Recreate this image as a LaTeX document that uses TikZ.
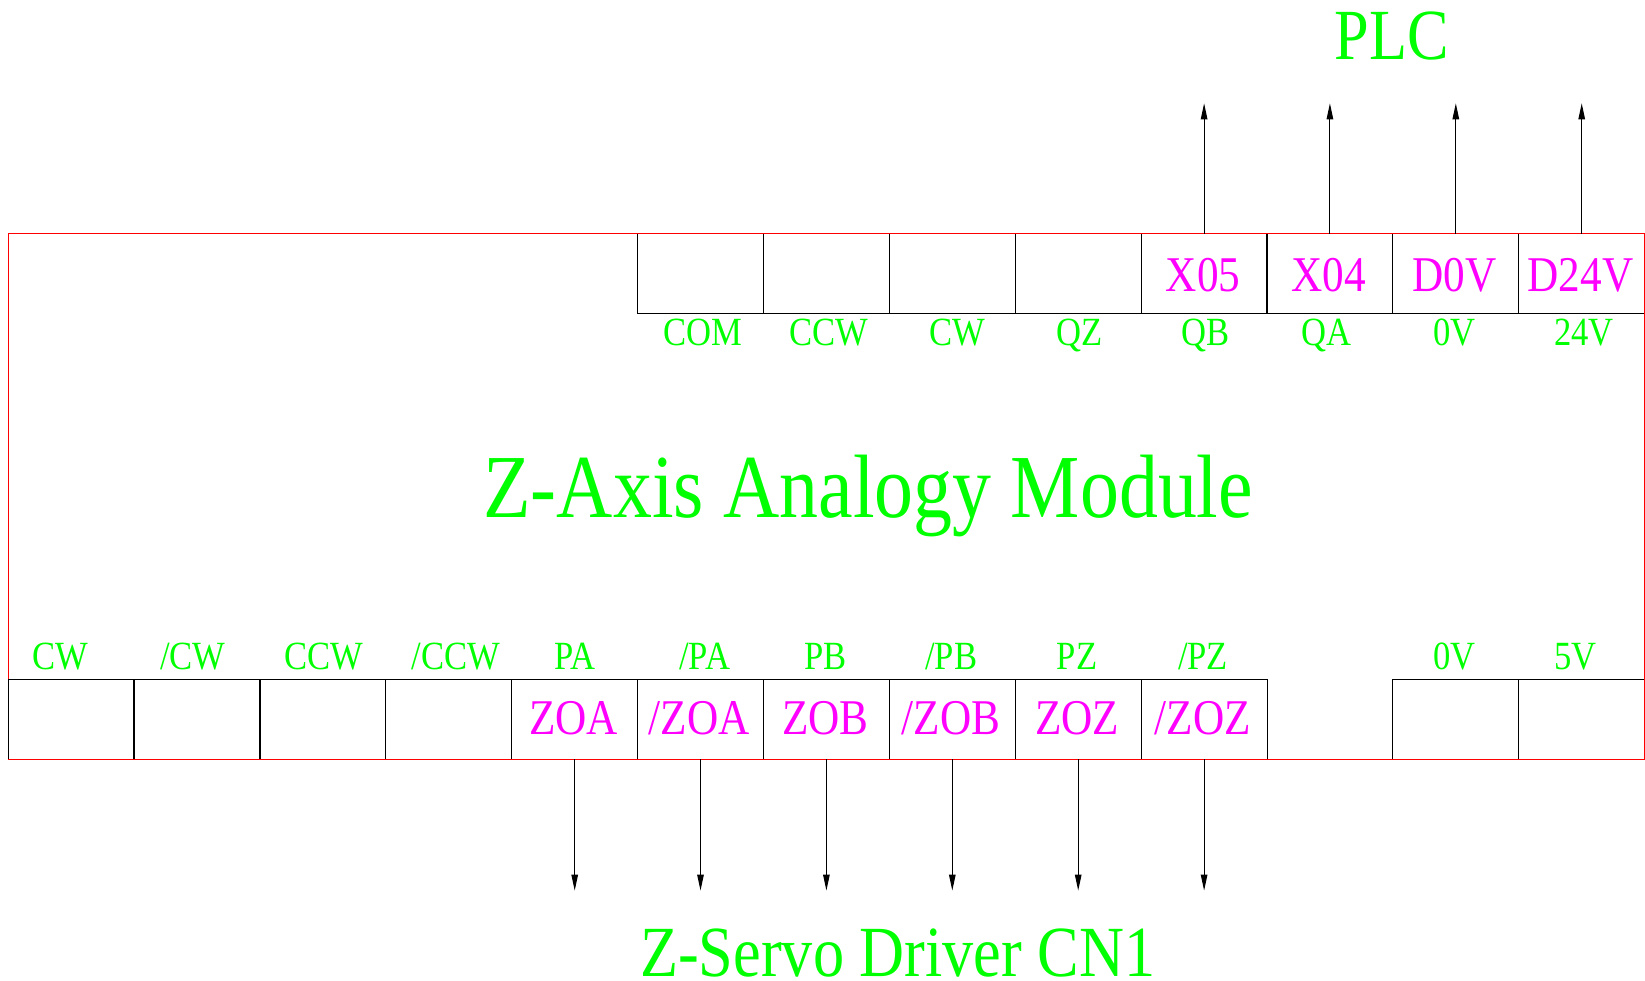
\documentclass[tikz,border=0pt]{standalone}
\usepackage{fontspec}
\setmainfont[FakeStretch=0.865]{Liberation Serif}
\usetikzlibrary{arrows.meta}
\definecolor{lblgreen}{RGB}{0,255,0}
\definecolor{pinmag}{RGB}{255,0,255}
\definecolor{edgered}{RGB}{255,0,0}
\tikzset{
  x=1pt,y=-1pt,
  cell/.style={draw=black,line width=1.1pt,minimum width=125.9pt,minimum height=#1,inner sep=0pt,outer sep=0pt},
  lbl/.style={anchor=base,text=lblgreen,font=\fontsize{40}{40}\selectfont,inner sep=0pt},
  pin/.style={anchor=base,text=pinmag,font=\fontsize{50}{50}\selectfont,inner sep=0pt},
  heading/.style={anchor=base,text=lblgreen,font=\fontsize{#1}{#1}\selectfont,inner sep=0pt},
  wire/.style={draw=black,line width=1.1pt,-{Stealth[length=16pt,width=6.5pt,inset=0pt]}},
  outline/.style={draw=edgered,line width=1.1pt}
}
\begin{document}
\begin{tikzpicture}
\useasboundingbox (0,0) rectangle (1645,981);
\begin{scope}[shift={(0.8,0.6)}]
% upper row of cells
\foreach \i/\cx in {1/699.7,2/825.6,3/951.5,4/1077.4,5/1203.3,6/1329.1,7/1455,8/1580.9}{
  \node[cell=79.6pt] (u\i) at (\cx,272.8) {};
}
% lower row of cells
\foreach \i/\cx in {1/70.2,2/196.2,3/322.1,4/448,5/573.9,6/699.7,7/825.6,8/951.5,9/1077.4,10/1203.3,13/1455,14/1580.9}{
  \node[cell=80pt] (d\i) at (\cx,718.7) {};
}
% module outline
\coordinate (tl) at (7.3,233);
\coordinate (tr) at (1643.6,233);
\coordinate (br) at (1643.6,758.7);
\coordinate (bl) at (7.3,758.7);
\coordinate (ltop) at (7.3,678.7);
\draw[outline] (ltop) -- (tl) -- (tr) -- (br) -- (bl);
% upper labels
\foreach \n/\t/\cx in {a/COM/701.8,b/CCW/827.7,c/CW/956.7,e/QZ/1078.4,f/QB/1204.3,g/QA/1325.9,h/0V/1453.9,k/24V/1583}{
  \node[lbl] (lu\n) at (\cx,345) {\t};
}
% lower labels
\foreach \n/\t/\cx in {a/CW/59.8,b/{/CW}/192,c/CCW/323.1,e/{/CCW}/455.3,f/PA/573.8,g/{/PA}/703.9,h/PB/824.5,k/{/PB}/950.4,l/PZ/1076.3,m/{/PZ}/1202.2,n/0V/1453.9,o/5V/1574.5}{
  \node[lbl] (ll\n) at (\cx,669.3) {\t};
}
% pins
\foreach \n/\t/\cx in {a/X05/1202.2,b/X04/1328.0,c/D0V/1453.9,e/D24V/1579.8}{
  \node[pin] (pu\n) at (\cx,290.7) {\t};
}
\foreach \n/\t/\cx in {a/ZOA/572.8,b/{/ZOA}/698.6,c/ZOB/824.5,e/{/ZOB}/950.4,f/ZOZ/1076.3,g/{/ZOZ}/1202.2}{
  \node[pin] (pd\n) at (\cx,734) {\t};
}
% headings
\node[heading=72] (plc) at (1391,59) {PLC};
\node[heading=90] (module) at (867.5,517) {Z-Axis Analogy Module};
\node[heading=72] (servo) at (897,976) {Z-Servo Driver CN1};
% connectors
\foreach \i in {5,6,7,8}{
  \coordinate (ue\i) at ([yshift=130.3pt]u\i.north);
  \draw[wire] (u\i.north) -- (ue\i);
}
\foreach \i in {5,6,7,8,9,10}{
  \coordinate (de\i) at ([yshift=-131.3pt]d\i.south);
  \draw[wire] (d\i.south) -- (de\i);
}
\end{scope}
\end{tikzpicture}
\end{document}
